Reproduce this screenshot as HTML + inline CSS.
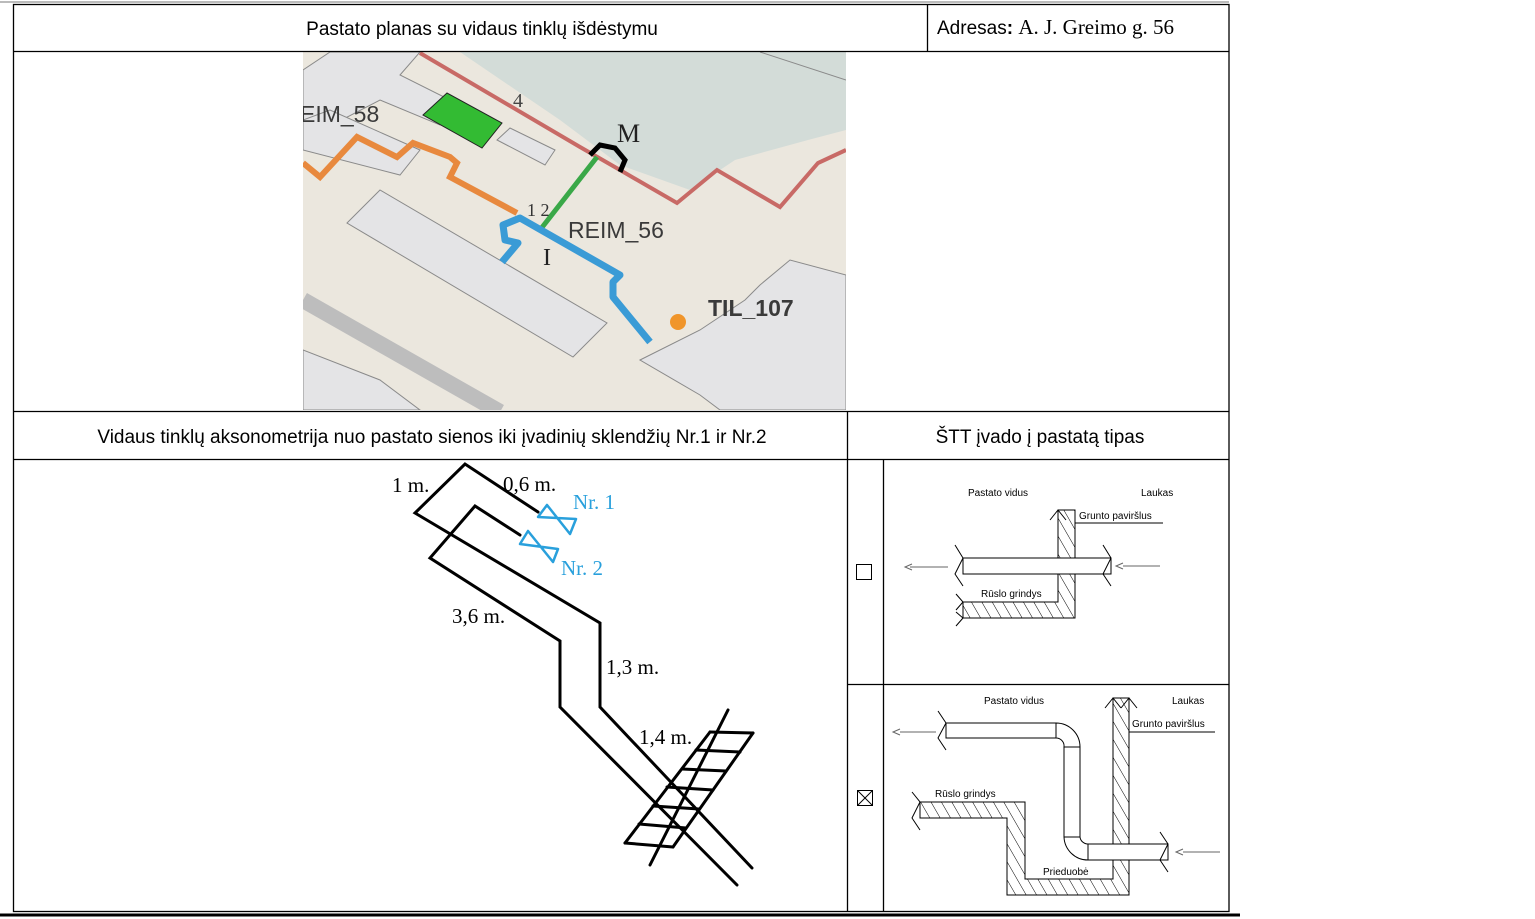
<!DOCTYPE html>
<html><head><meta charset="utf-8"><style>
html,body{margin:0;padding:0;background:#fff;width:1535px;height:919px;overflow:hidden}
svg{display:block}
.s{font-family:"Liberation Sans",sans-serif}
.r{font-family:"Liberation Serif",serif}
</style></head><body>
<svg width="1535" height="919" viewBox="0 0 1535 919" xmlns="http://www.w3.org/2000/svg">
<defs>
<pattern id="h" width="9" height="9" patternUnits="userSpaceOnUse" patternTransform="rotate(-30)">
<line x1="0" y1="0" x2="0" y2="9" stroke="#000" stroke-width="1"/>
</pattern>
<clipPath id="mc"><rect x="303" y="52" width="543" height="358"/></clipPath>
</defs>
<g clip-path="url(#mc)">
<rect x="303" y="52" width="543" height="358" fill="#ebe7de"/>
<polygon points="460,52 846,52 846,130 808,140 735,160 690,190 620,165 560,120" fill="#d3dcd8"/>
<polygon points="303,70 330,52 420,52 400,75 470,110 440,125 380,100 303,140" fill="#e4e4e6" stroke="#8a8a8a" stroke-width="1"/>
<polygon points="497,140 510,128 555,150 545,165" fill="#e4e4e6" stroke="#8a8a8a"/>
<polygon points="347,223 380,190 607,323 573,357" fill="#e4e4e6" stroke="#8a8a8a" stroke-width="1"/>
<polygon points="303,120 330,110 420,150 400,175 303,150" fill="#e4e4e6" stroke="#8a8a8a"/>
<polygon points="640,360 700,330 745,300 760,285 790,260 846,275 846,410 720,410 700,395" fill="#e4e4e6" stroke="#8a8a8a"/>
<polygon points="303,350 380,380 420,410 303,410" fill="#e4e4e6" stroke="#8a8a8a"/>
<line x1="303" y1="300" x2="500" y2="412" stroke="#bdbdbd" stroke-width="16"/>
<line x1="760" y1="52" x2="846" y2="80" stroke="#8a8a8a"/>
<polyline points="420,53 580,147 620,170 677,203 717,170 780,207 818,163 846,150" fill="none" stroke="#c86a66" stroke-width="4"/>
<polyline points="303,163 320,177 357,137 397,157 413,143 450,157 457,163 450,177 517,213" fill="none" stroke="#e8893e" stroke-width="6"/>
<polygon points="423,115 447,93 502,123 482,148" fill="#33bb33" stroke="#222" stroke-width="1"/>
<line x1="540" y1="230" x2="597" y2="157" stroke="#3aa848" stroke-width="5"/>
<polyline points="590,155 600,145 615,148 625,160 620,172" fill="none" stroke="#000" stroke-width="5"/>
<polyline points="650,342 613,297 613,282 620,275 520,218 503,225 505,240 518,243 502,262" fill="none" stroke="#3a9bd6" stroke-width="7" stroke-linejoin="round"/>
<circle cx="678" cy="322" r="8" fill="#f0952a"/>
<text x="300" y="122" class="s" font-size="23" fill="#3a3a3a">EIM_58</text>
<text x="568" y="238" class="s" font-size="23" fill="#3a3a3a">REIM_56</text>
<text x="708" y="316" class="s" font-size="23" font-weight="bold" fill="#3a3a3a">TIL_107</text>
<text x="543" y="265" class="r" font-size="24" fill="#222">I</text>
<text x="617" y="142" class="r" font-size="26" fill="#222">M</text>
<text x="513" y="107" class="r" font-size="20" fill="#444">4</text>
<text x="527" y="216" class="r" font-size="18" fill="#333">1 2</text>
</g>
<g stroke="#000" stroke-width="1.3" fill="none">
<rect x="13.5" y="4.5" width="1215.5" height="907"/>
<line x1="13" y1="51.5" x2="1229" y2="51.5"/>
<line x1="927.5" y1="4" x2="927.5" y2="51"/>
<line x1="13" y1="411.5" x2="1229" y2="411.5"/>
<line x1="13" y1="459.5" x2="1229" y2="459.5"/>
<line x1="847.5" y1="411" x2="847.5" y2="912"/>
<line x1="883.5" y1="459" x2="883.5" y2="912"/>
<line x1="847" y1="684.5" x2="1229" y2="684.5"/>
</g>
<line x1="0" y1="2" x2="1229" y2="2" stroke="#bbb" stroke-width="2"/>
<line x1="0" y1="915" x2="1240" y2="915" stroke="#000" stroke-width="3"/>
<text x="482" y="35" text-anchor="middle" class="s" font-size="19">Pastato planas su vidaus tinklų išdėstymu</text>
<text x="937" y="34" class="s" font-size="19">Adresas<tspan font-weight="bold">:</tspan> <tspan class="r" font-size="21">A. J. Greimo g. 56</tspan></text>
<text x="432" y="443" text-anchor="middle" class="s" font-size="19">Vidaus tinklų aksonometrija nuo pastato sienos iki įvadinių sklendžių Nr.1 ir Nr.2</text>
<text x="1040" y="443" text-anchor="middle" class="s" font-size="19">ŠTT įvado į pastatą tipas</text>
<g stroke="#000" stroke-width="3" fill="none" stroke-linecap="round">
<polyline points="538,512 465,464 415,513 600,623 600,707 752,868"/>
<polyline points="520,535 475,506 430,558 560,641 560,707 737,885"/>
<line x1="728" y1="710" x2="650" y2="865"/>
<line x1="753" y1="733" x2="673" y2="847"/>
<line x1="710" y1="732" x2="625" y2="843"/>
<line x1="710" y1="732" x2="753" y2="733"/>
<line x1="696" y1="750" x2="740" y2="752"/>
<line x1="682" y1="769" x2="726" y2="771"/>
<line x1="667" y1="787" x2="713" y2="790"/>
<line x1="653" y1="806" x2="699" y2="809"/>
<line x1="639" y1="824" x2="686" y2="828"/>
<line x1="625" y1="843" x2="673" y2="847"/>
</g>
<g stroke="#29a0dc" stroke-width="2.5" fill="none" stroke-linejoin="round">
<polygon points="538,517 547,505 570,534 576,519"/>
<polygon points="520,544 528,531 553,562 558,549"/>
</g>
<text x="392" y="492" class="r" font-size="21">1 m.</text>
<text x="503" y="491" class="r" font-size="21">0,6 m.</text>
<text x="573" y="509" class="r" font-size="21" fill="#29a0dc">Nr. 1</text>
<text x="561" y="575" class="r" font-size="21" fill="#29a0dc">Nr. 2</text>
<text x="452" y="623" class="r" font-size="21">3,6 m.</text>
<text x="606" y="674" class="r" font-size="21">1,3 m.</text>
<text x="639" y="744" class="r" font-size="21">1,4 m.</text>
<rect x="856.5" y="564.5" width="15" height="15" fill="none" stroke="#000"/>
<g class="s" font-size="10">
<text x="968" y="496">Pastato vidus</text>
<text x="1141" y="496">Laukas</text>
<text x="1079" y="519">Grunto paviršlus</text>
<text x="981" y="597">Rūslo grindys</text>
</g>
<polygon points="1058,510 1075,510 1075,618 963,618 963,602 1058,602" fill="url(#h)" stroke="#000"/>
<g stroke="#000" fill="none" stroke-width="1">
<line x1="1075" y1="523" x2="1163" y2="523"/>
<rect x="963" y="558" width="148" height="16" fill="#fff"/>
<polyline points="955,545 963,558 955,574 963,586"/>
<polyline points="1103,545 1111,558 1103,574 1111,586"/>
<polyline points="1050,520 1058,510 1066,520"/>
<polyline points="956,594 963,602 956,610"/>
<polyline points="956,612 963,618 956,626"/>
<line x1="910" y1="567" x2="948" y2="567" stroke="#666"/>
<polyline points="912,564 905,567 912,570" stroke="#666"/>
<line x1="1123" y1="566" x2="1160" y2="566" stroke="#666"/>
<polyline points="1123,563 1116,566 1123,569" stroke="#666"/>
</g>
<rect x="857.5" y="790.5" width="15" height="15" fill="none" stroke="#000"/>
<line x1="857.5" y1="790.5" x2="872.5" y2="805.5" stroke="#000"/>
<line x1="872.5" y1="790.5" x2="857.5" y2="805.5" stroke="#000"/>
<g class="s" font-size="10">
<text x="984" y="704">Pastato vidus</text>
<text x="1172" y="704">Laukas</text>
<text x="1132" y="727">Grunto paviršlus</text>
<text x="935" y="797">Rūslo grindys</text>
<text x="1043" y="875">Prieduobė</text>
</g>
<polygon points="1113,698 1129,698 1129,895 1007,895 1007,818 920,818 920,802 1025,802 1025,879 1113,879" fill="url(#h)" stroke="#000"/>
<g stroke="#000" fill="none" stroke-width="1">
<line x1="1129" y1="732" x2="1215" y2="732"/>
<rect x="946" y="723" width="110" height="15" fill="#fff"/>
<path d="M1056,723 A24,24 0 0 1 1080,747 L1064,747 A8,8 0 0 0 1056,738 Z" fill="#fff"/>
<rect x="1064" y="747" width="16" height="90" fill="#fff"/>
<path d="M1064,837 A24,24 0 0 0 1088,860 L1088,844 A8,8 0 0 1 1080,837 Z" fill="#fff"/>
<rect x="1088" y="844" width="80" height="16" fill="#fff"/>
<polyline points="938,711 946,723 938,738 946,750"/>
<polyline points="1160,832 1168,844 1160,860 1168,872"/>
<polyline points="1105,708 1113,698 1121,708"/>
<polyline points="1121,708 1129,698 1137,708"/>
<polyline points="912,792 920,802 912,818 920,830"/>
<line x1="900" y1="732" x2="936" y2="732" stroke="#666"/>
<polyline points="900,729 893,732 900,735" stroke="#666"/>
<line x1="1183" y1="852" x2="1220" y2="852" stroke="#666"/>
<polyline points="1183,849 1176,852 1183,855" stroke="#666"/>
</g>
</svg>
</body></html>
